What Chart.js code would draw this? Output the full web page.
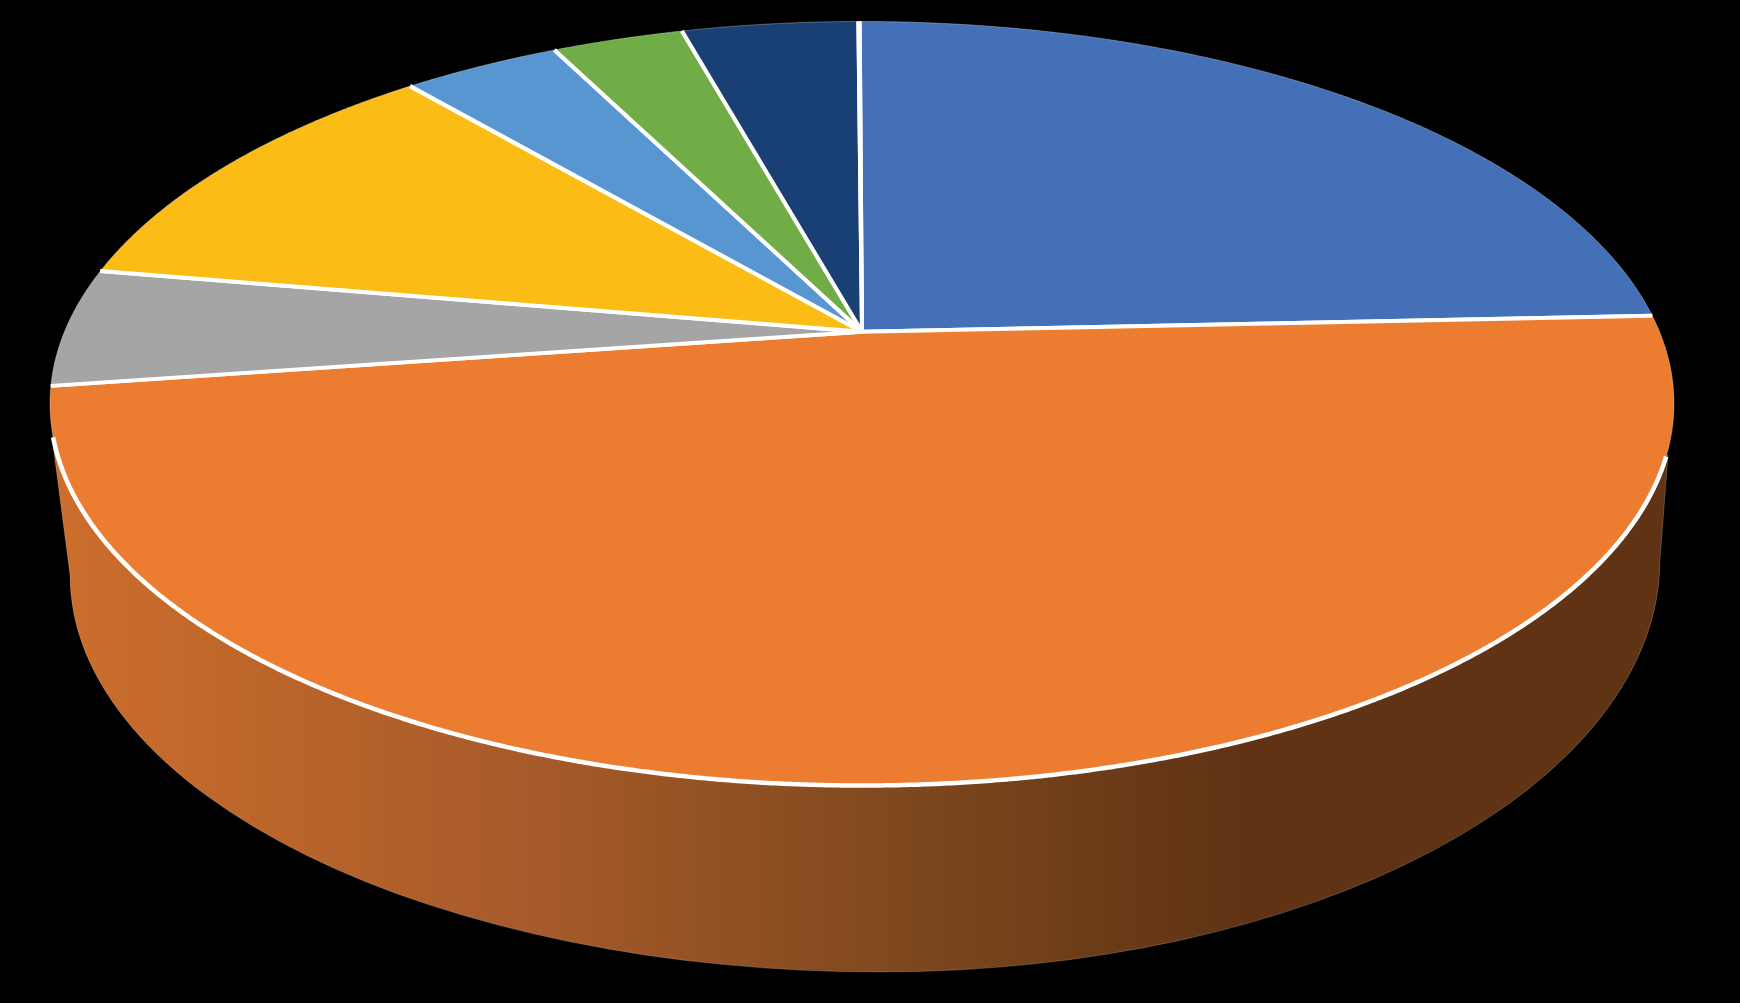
<!DOCTYPE html>
<html>
<head>
<meta charset="utf-8">
<style>html,body{margin:0;padding:0;background:#000}canvas{display:block}</style>
<script src="https://cdn.jsdelivr.net/npm/chart.js@4"></script>
</head>
<body>
<canvas id="c" width="1740" height="1003"></canvas>
<script>
const categories = ['Slice 1','Slice 2','Slice 3','Slice 4','Slice 5','Slice 6','Slice 7','Slice 8'];
const seriesValues = [24.36, 48.41, 5.0, 11.07, 3.78, 3.14, 4.21, 0.03];
const sliceColors = ['#4470B8','#EC7D30','#A5A5A5','#FBBD15','#5896D1','#70AD47','#184074','#D0D4DE'];

// Top face: a circle seen in perspective (ellipse, with the pie centre off the ellipse centre)
const face = {cx:862, cy:403.5, rx:812, ry:382, a:0.188};
// Lower outline of the side wall (two quarter ellipses meeting at the bottom)
const wallLeft  = {cx:880, cy:575, rx:810, ry:397};
const wallRight = {cx:880, cy:560, rx:780, ry:412};
const rimLeft = [52,437], rimRight = [1668,455];

function project(theta, r){
  const X = r*Math.sin(theta), Y = -r*Math.cos(theta), a = face.a;
  const d = 1 - a*Y;
  return [face.cx + face.rx*X*Math.sqrt(1-a*a)/d, face.cy + face.ry*(Y-a)/d];
}
function belowRimLine(p){
  return p[1] > rimLeft[1] + (p[0]-rimLeft[0])*(rimRight[1]-rimLeft[1])/(rimRight[0]-rimLeft[0]);
}

Chart.ArcElement.prototype.draw = function(ctx){
  const t0 = this.startAngle + Math.PI/2, t1 = this.endAngle + Math.PI/2;
  const n = Math.max(2, Math.ceil((t1-t0)/0.004));
  const pts = [];
  for(let i=0;i<=n;i++) pts.push(project(t0+(t1-t0)*i/n,1));
  const apex = project(0,0);
  ctx.save();
  ctx.beginPath();
  ctx.moveTo(apex[0],apex[1]);
  pts.forEach(p=>ctx.lineTo(p[0],p[1]));
  ctx.closePath();
  ctx.fillStyle = this.options.backgroundColor;
  ctx.fill();
  // faint outer edge
  ctx.beginPath();
  pts.forEach((p,i)=>i?ctx.lineTo(p[0],p[1]):ctx.moveTo(p[0],p[1]));
  ctx.strokeStyle='rgba(255,255,255,0.3)';
  ctx.lineWidth=1;
  ctx.stroke();
  // thick white edge where the face meets the wall
  ctx.beginPath();
  let on=false;
  pts.forEach(p=>{
    if(belowRimLine(p)){ on?ctx.lineTo(p[0],p[1]):ctx.moveTo(p[0],p[1]); on=true; } else on=false;
  });
  ctx.strokeStyle='#fff';
  ctx.lineWidth=4.5;
  ctx.lineCap='butt';
  ctx.stroke();
  // spokes
  ctx.beginPath();
  ctx.moveTo(pts[0][0],pts[0][1]);
  ctx.lineTo(apex[0],apex[1]);
  ctx.lineTo(pts[n][0],pts[n][1]);
  ctx.lineWidth=4;
  ctx.lineJoin='round';
  ctx.stroke();
  ctx.restore();
};

const rimPlugin = {
  id:'rim',
  beforeDatasetsDraw(chart){
    const ctx = chart.ctx;
    const g = ctx.createLinearGradient(60,0,1243,0);
    g.addColorStop(0,'#CC6E2C');
    g.addColorStop(0.415,'#A5592A');
    g.addColorStop(0.68,'#824A1E');
    g.addColorStop(1,'#5F3314');
    ctx.save();
    ctx.beginPath();
    ctx.moveTo(rimLeft[0],rimLeft[1]);
    ctx.ellipse(wallLeft.cx,wallLeft.cy,wallLeft.rx,wallLeft.ry,0,Math.PI,Math.PI/2,true);
    ctx.ellipse(wallRight.cx,wallRight.cy,wallRight.rx,wallRight.ry,0,Math.PI/2,0,true);
    ctx.lineTo(rimRight[0],rimRight[1]);
    ctx.closePath();
    ctx.fillStyle=g;
    ctx.fill();
    ctx.strokeStyle='rgba(255,255,255,0.2)';
    ctx.lineWidth=1;
    ctx.stroke();
    ctx.restore();
  }
};

new Chart(document.getElementById('c'),{
  type:'pie',
  data:{labels:categories,datasets:[{data:seriesValues,backgroundColor:sliceColors,borderWidth:0}]},
  options:{
    responsive:false,
    animation:false,
    rotation:-0.2,
    layout:{padding:0},
    plugins:{legend:{display:false},tooltip:{enabled:false},title:{display:false}}
  },
  plugins:[rimPlugin]
});
</script>
</body>
</html>
